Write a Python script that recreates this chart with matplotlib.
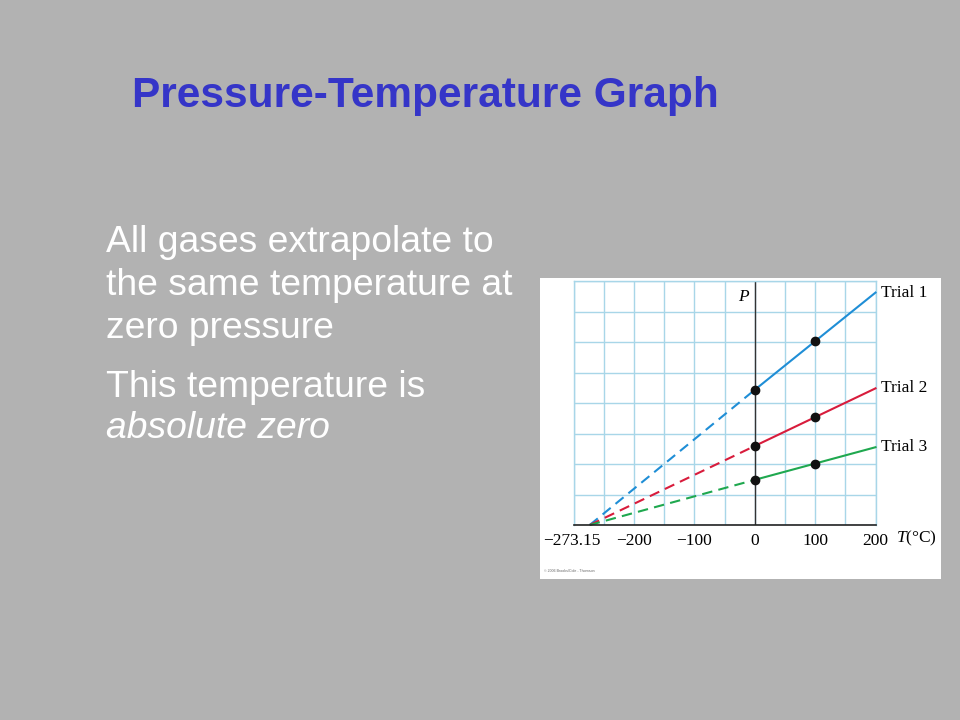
import matplotlib
matplotlib.use("Agg")
import matplotlib.pyplot as plt
from matplotlib.patches import Rectangle
from matplotlib.transforms import ScaledTranslation
import numpy as np

# ---------------- data ----------------
title = "Pressure-Temperature Graph"
body_lines = ["All gases extrapolate to", "the same temperature at", "zero pressure",
              "This temperature is", "absolute zero"]
abs_zero = -273.15
measured_T = [0, 100]
end_T = 200
trial_names = ["Trial 1", "Trial 2", "Trial 3"]
trial_P0 = [4.43, 2.59, 1.48]      # pressure at 0 °C (grid units)
trial_P100 = [6.02, 3.53, 2.00]    # pressure at 100 °C
trial_P200 = [7.62, 4.48, 2.55]    # pressure at 200 °C (line end)
x_tick_values = [-273.15, -200, -100, 0, 100, 200]
x_tick_labels = ["\u2212273.15", "\u2212200", "\u2212100", "0", "100", "200"]
credit = "\u00a9 2006 Brooks/Cole - Thomson"

# ---------------- style ----------------
trial_colors = ["#1f8ed6", "#d81c3c", "#1fa84f"]
bg = "#b2b2b2"
grid_col = "#a8d6e8"
W, H = 960, 720
plt.rcParams["mathtext.fontset"] = "custom"
plt.rcParams["mathtext.it"] = "Liberation Serif:italic"
plt.rcParams["mathtext.rm"] = "Liberation Serif"
serif = "Liberation Serif"

fig = plt.figure(figsize=(W / 100, H / 100), dpi=100, facecolor=bg)

# slide title
fig.text(132 / W, 1 - 107 / H, title, fontsize=30.5, fontweight="bold",
         color="#3535c8", family="Liberation Sans", va="baseline", ha="left")

# body text
baselines = [252, 295, 338, 397, 438]
styles = ["normal", "normal", "normal", "normal", "italic"]
for line, yb, st in zip(body_lines, baselines, styles):
    fig.text(106 / W, 1 - yb / H, line, fontsize=26.8, color="white",
             family="Liberation Sans", style=st, va="baseline", ha="left")

# white picture panel
fig.patches.append(Rectangle((540 / W, 1 - 579 / H), 401 / W, 301 / H,
                             transform=fig.transFigure, facecolor="white",
                             edgecolor="none", zorder=-10))

ax = fig.add_axes([573.5 / W, 1 - 525 / H, 302 / W, 244 / H])
ax.set_zorder(1)
ax.set_facecolor("white")
ax.set_xlim(-300, 200)
ax.set_ylim(0, 8)
ax.xaxis.remove_overlapping_locs = False
ax.yaxis.remove_overlapping_locs = False

ax.set_xticks(x_tick_values)
ax.set_xticklabels(x_tick_labels, family=serif, fontsize=12.5)
ax.set_xticks(np.arange(-300, 201, 50), minor=True)
ax.set_yticks([])
ax.set_yticks(np.arange(0, 9, 1), minor=True)
ax.grid(which="minor", color=grid_col, lw=1.0)
ax.grid(which="major", visible=False)
ax.tick_params(which="both", length=0)
ax.tick_params(axis="x", which="major", pad=6)
lab0 = ax.get_xticklabels()[0]
lab0.set_transform(lab0.get_transform() + ScaledTranslation(-0.18, 0, fig.dpi_scale_trans))

for s in ["left", "top", "right"]:
    ax.spines[s].set_color(grid_col)
    ax.spines[s].set_linewidth(1.0)
ax.spines["bottom"].set_color("#222222")
ax.spines["bottom"].set_linewidth(1.2)
ax.spines["bottom"].set_zorder(5)
ax.axvline(0, color="#333333", lw=1.0, zorder=2)

for name, p0, p100, p200, c in zip(trial_names, trial_P0, trial_P100, trial_P200, trial_colors):
    ax.plot([abs_zero, 0], [0, p0], color=c, lw=1.5, dashes=(5, 3), zorder=3,
            clip_on=False)
    ax.plot([0, end_T], [p0, p200], color=c, lw=1.5, zorder=3, clip_on=False)
    ax.plot(measured_T, [p0, p100], "o", color="#111111", ms=6, zorder=4, clip_on=False)
    ax.annotate(name, xy=(end_T, p200), xytext=(4, 0), textcoords="offset points",
                ha="left", va="center", family=serif, fontsize=12.5,
                annotation_clip=False)

ax.annotate("$T$(\u00b0C)", xy=(end_T, 0), xytext=(15, -10), textcoords="offset points",
            ha="left", va="center", family=serif, fontsize=12.5, annotation_clip=False)
ax.annotate("$P$", xy=(0, 8), xytext=(-3, -11), textcoords="offset points",
            ha="right", va="center", fontsize=12.5, annotation_clip=False)

fig.text(544 / W, 1 - 571 / H, credit, fontsize=2.6, color="#666666",
         family="Liberation Sans", va="center", ha="left")

fig.savefig("out.png", dpi=100, facecolor=bg)
